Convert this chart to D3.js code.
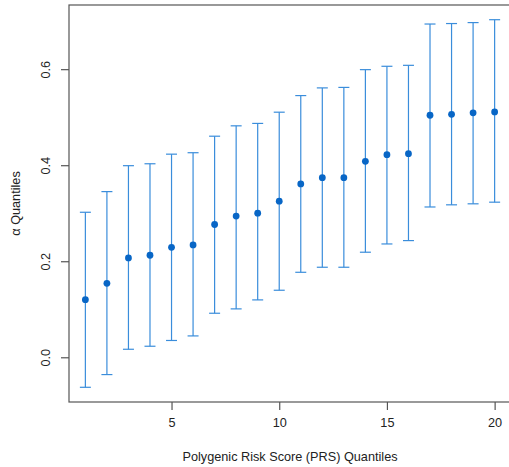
<!DOCTYPE html>
<html>
<head>
<meta charset="utf-8">
<script src="https://cdn.jsdelivr.net/npm/d3@7"></script>
<style>
  html, body { margin: 0; padding: 0; background: #fff; }
  svg { display: block; font-family: "Liberation Sans", Arial, sans-serif; }
</style>
</head>
<body>
<svg id="chart" width="509" height="467"></svg>
<script>
// PRS quantile index
const quantiles = d3.range(1, 21);
// point estimate of alpha per quantile
const estimate = [0.120, 0.154, 0.207, 0.2125, 0.229, 0.234, 0.2765, 0.294, 0.300, 0.325,
                  0.361, 0.374, 0.374, 0.408, 0.422, 0.424, 0.504, 0.506, 0.509, 0.511];
// lower interval bound
const lower = [-0.0625, -0.036, 0.0167, 0.023, 0.035, 0.0445, 0.0917, 0.1008, 0.1195, 0.1396,
               0.177, 0.1875, 0.1875, 0.2188, 0.236, 0.243, 0.313, 0.3175, 0.3196, 0.323];
// upper interval bound
const upper = [0.302, 0.345, 0.399, 0.403, 0.423, 0.426, 0.4604, 0.482, 0.487, 0.5104,
               0.545, 0.561, 0.562, 0.599, 0.606, 0.608, 0.694, 0.695, 0.697, 0.703];
const xTicks = [5, 10, 15, 20];
const yTicks = [0.0, 0.2, 0.4, 0.6];
const xTitle = "Polygenic Risk Score (PRS) Quantiles";
const yTitle = "α Quantiles";

const svg = d3.select("#chart");
const plot = { left: 69, right: 511, top: 5, bottom: 402 };
const fontSize = 12.7;

// R-style 4% padding around the data range
function padded(lo, hi) {
  const d = (hi - lo) * 0.04;
  return [lo - d, hi + d];
}
const x = d3.scaleLinear()
  .domain(padded(d3.min(quantiles), d3.max(quantiles)))
  .range([plot.left, plot.right]);
const y = d3.scaleLinear()
  .domain(padded(d3.min(lower), d3.max(upper)))
  .range([plot.bottom, plot.top]);

const data = quantiles.map((q, i) => ({ q, est: estimate[i], lo: lower[i], hi: upper[i] }));

const lineColor = "#3a8ddb";
const dotColor = "#0866c6";
const capHalf = 5.5;

// error bars
const bars = svg.append("g");
bars.selectAll("line.stem").data(data).join("line")
  .attr("class", "stem")
  .attr("x1", d => x(d.q)).attr("x2", d => x(d.q))
  .attr("y1", d => y(d.lo)).attr("y2", d => y(d.hi))
  .attr("stroke", lineColor).attr("stroke-width", 1.2);
bars.selectAll("line.capHi").data(data).join("line")
  .attr("class", "capHi")
  .attr("x1", d => x(d.q) - capHalf).attr("x2", d => x(d.q) + capHalf)
  .attr("y1", d => y(d.hi)).attr("y2", d => y(d.hi))
  .attr("stroke", lineColor).attr("stroke-width", 1.2);
bars.selectAll("line.capLo").data(data).join("line")
  .attr("class", "capLo")
  .attr("x1", d => x(d.q) - capHalf).attr("x2", d => x(d.q) + capHalf)
  .attr("y1", d => y(d.lo)).attr("y2", d => y(d.lo))
  .attr("stroke", lineColor).attr("stroke-width", 1.2);

// point estimates
svg.append("g").selectAll("circle").data(data).join("circle")
  .attr("cx", d => x(d.q)).attr("cy", d => y(d.est))
  .attr("r", 3.4).attr("fill", dotColor);

// plot box
svg.append("rect")
  .attr("x", plot.left).attr("y", plot.top)
  .attr("width", plot.right - plot.left).attr("height", plot.bottom - plot.top)
  .attr("fill", "none").attr("stroke", "#555").attr("stroke-width", 1.2);

// axes
const xAxis = d3.axisBottom(x).tickValues(xTicks).tickSize(8).tickPadding(8)
  .tickFormat(d3.format("d"));
const gx = svg.append("g").attr("transform", `translate(0,${plot.bottom})`).call(xAxis);
gx.select(".domain").remove();
gx.selectAll(".tick line").attr("stroke", "#555").attr("stroke-width", 1.2);
gx.selectAll(".tick text").attr("fill", "#222").attr("font-size", fontSize);

const yAxis = d3.axisLeft(y).tickValues(yTicks).tickSize(8).tickPadding(0)
  .tickFormat(d3.format(".1f"));
const gy = svg.append("g").attr("transform", `translate(${plot.left},0)`).call(yAxis);
gy.select(".domain").remove();
gy.selectAll(".tick line").attr("stroke", "#555").attr("stroke-width", 1.2);
gy.selectAll(".tick text")
  .attr("fill", "#222").attr("font-size", fontSize)
  .attr("x", 0).attr("dy", null)
  .attr("text-anchor", "middle")
  .attr("transform", "translate(-22,0) rotate(-90)")
  .attr("dominant-baseline", "middle");

// axis titles
svg.append("text")
  .attr("x", (plot.left + plot.right) / 2).attr("y", 461)
  .attr("text-anchor", "middle").attr("font-size", fontSize).attr("fill", "#222")
  .text(xTitle);
svg.append("text")
  .attr("transform", `translate(20,${(plot.top + plot.bottom) / 2}) rotate(-90)`)
  .attr("text-anchor", "middle").attr("font-size", fontSize).attr("fill", "#222")
  .text(yTitle);
</script>
</body>
</html>
